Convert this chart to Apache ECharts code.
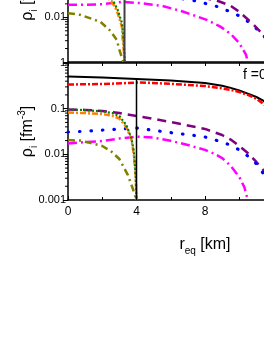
<!DOCTYPE html>
<html>
<head>
<meta charset="utf-8">
<script src="https://cdn.jsdelivr.net/npm/echarts@6/dist/echarts.min.js"></script>
<style>
html,body{margin:0;padding:0;background:#fff;}
#c{width:264px;height:341px;}
</style>
</head>
<body>
<div id="c"></div>
<script>
// ---- data (x in km, y in fm^-3) ----
const xTickLabels = ['0','4','8','12','16'];
const yTickLabels = ['0.001','0.01','0.1','1'];
const annotation = 'f =0';

// top panel (partially visible)
const topMagenta = [[0,0.0191],[1,0.0192],[2,0.0196],[3.2,0.0223],[4.2,0.0208],[5.5,0.0181],[6.7,0.0135],[8.1,0.0088],[8.9,0.0062],[9.5,0.00426],[10,0.00267],[10.4,0.00144],[10.5,0.001]];
const topBlue = [[0,0.033],[4,0.034],[6,0.029],[7.4,0.0235],[8.1,0.0201],[8.7,0.0175],[9.3,0.0142],[10,0.0108],[10.6,0.0077],[11.2,0.0048],[11.5,0.0036],[12,0.002]];
const topPurple = [[0,0.05],[4,0.045],[7,0.033],[8.8,0.0229],[9.5,0.0181],[10,0.0133],[10.8,0.0071],[11.3,0.0045],[11.5,0.0035],[12,0.002]];
const topOlive = [[0,0.0124],[0.7,0.0114],[1.9,0.0079],[2.45,0.0051],[2.85,0.00312],[3.0,0.00186],[3.2,0.0011],[3.25,0.001]];
const topOrange = [[0,0.06],[1.5,0.045],[2.45,0.0247],[2.74,0.0174],[2.9,0.0124],[3.15,0.0061],[3.2,0.0031],[3.27,0.0016],[3.3,0.001]];
const topGreen = [[0,0.065],[1.5,0.05],[2.6,0.0247],[2.9,0.0147],[3.15,0.0075],[3.23,0.0037],[3.28,0.00186],[3.32,0.001]];
const topVertical = [[3.3,0.001],[3.3,1]];

// bottom panel
const botBlack = [[0,0.506],[2,0.48],[4,0.447],[6,0.412],[8,0.363],[9,0.318],[9.5,0.285],[10,0.25],[10.5,0.214],[11,0.18],[11.4,0.15],[12,0.09]];
const botRed = [[0,0.338],[2,0.347],[4,0.37],[4.2,0.375],[6,0.35],[8,0.312],[9,0.278],[9.5,0.257],[10,0.232],[10.5,0.2],[11,0.165],[11.5,0.12],[12,0.075]];
const botPurple = [[0,0.096],[1,0.094],[2,0.089],[3,0.08],[4,0.069],[5,0.06],[6,0.051],[7,0.043],[8,0.036],[9,0.0265],[9.5,0.021],[10,0.0152],[10.5,0.0107],[11,0.0068],[11.5,0.0041],[12,0.002]];
const botBlue = [[0,0.0308],[1,0.032],[2,0.034],[3,0.0358],[4,0.0377],[5,0.0335],[6,0.0298],[7,0.027],[8,0.024],[9,0.0186],[9.5,0.0158],[10,0.0125],[10.5,0.0092],[11,0.0062],[11.5,0.0034],[12,0.0015]];
const botMagenta = [[0,0.0173],[1,0.0185],[2,0.0195],[3,0.0222],[4,0.0245],[5,0.0232],[6,0.0198],[7,0.016],[8,0.0125],[8.5,0.0105],[9,0.0083],[9.5,0.0056],[10,0.0032],[10.3,0.0019],[10.5,0.001]];
const botOlive = [[0,0.0205],[0.7,0.02],[1.3,0.0178],[2,0.0152],[2.5,0.0118],[3,0.0079],[3.5,0.0035],[3.8,0.0017],[4,0.001]];
const botGreen = [[0,0.096],[1,0.093],[2,0.087],[2.6,0.08],[3,0.069],[3.4,0.044],[3.7,0.0228],[3.85,0.0112],[3.95,0.0035],[4,0.001]];
const botOrange = [[0,0.082],[1,0.08],[2,0.076],[2.6,0.07],[3,0.061],[3.4,0.04],[3.7,0.0217],[3.85,0.0097],[3.95,0.0035],[4,0.001]];
const botVertical = [[4,0.447],[4,0.001]];

// ---- chart ----
const FONT = '"Liberation Sans", Arial, sans-serif';
const chart = echarts.init(document.getElementById('c'), null, {renderer:'canvas'});

const minorVals = [];
for (let e = -3; e < 0; e++) for (let m = 2; m <= 9; m++) minorVals.push([0, m * Math.pow(10, e)]);

function logLabel(v){ const e = Math.round(Math.log10(v)); return yTickLabels[e + 3] || ''; }
function xLabel(v){ return xTickLabels[Math.round(v / 4)] || ''; }

const nameRich = {
  a:{fontSize:16, fontFamily:FONT, color:'#000', lineHeight:22, verticalAlign:'middle'},
  s:{fontSize:10, fontFamily:FONT, color:'#000', lineHeight:12, verticalAlign:'bottom'},
  p:{fontSize:10, fontFamily:FONT, color:'#000', lineHeight:12, verticalAlign:'top'}
};
const yName = '{a|ρ}{s|i}{a| [fm}{p|-3}{a|]}';

function line(data, color, dash, xi, yi, width, cap){
  return {type:'line', data, xAxisIndex:xi, yAxisIndex:yi, showSymbol:false, symbol:'none',
    silent:true, animation:false, smooth:false,
    lineStyle:{color, width:width||2.2, type:dash||'solid', cap:cap||'butt'}};
}
function minorTicks(xi, yi){
  return {type:'custom', xAxisIndex:xi, yAxisIndex:yi, data:minorVals, silent:true, animation:false, clip:false,
    renderItem:(params, api)=>{
      const p = api.coord([api.value(0), api.value(1)]);
      return {type:'line', shape:{x1:p[0]-3, y1:p[1], x2:p[0], y2:p[1]}, style:{stroke:'#000', lineWidth:1}};
    }};
}

const W = 274; // 16 km * ~17.15 px/km, extends past the window
const option = {
  backgroundColor:'#fff',
  animation:false,
  grid:[
    {left:68, top:-72, width:W, height:134, containLabel:false, outerBoundsMode:'none'},
    {left:68, top:63, width:W, height:137, containLabel:false, outerBoundsMode:'none'}
  ],
  xAxis:[
    {gridIndex:0, type:'value', min:0, max:16, interval:2,
      axisLine:{show:true, lineStyle:{color:'#000', width:1.5}},
      axisTick:{show:true, inside:false, length:4, lineStyle:{color:'#000'}},
      axisLabel:{show:false}, splitLine:{show:false}},
    {gridIndex:1, type:'value', min:0, max:16, interval:4,
      axisLine:{show:true, lineStyle:{color:'#000', width:1.5}},
      axisTick:{show:true, inside:true, length:4, lineStyle:{color:'#000'}},
      minorTick:{show:true, splitNumber:2, length:3, lineStyle:{color:'#000'}},
      axisLabel:{show:true, formatter:xLabel, fontSize:12, fontFamily:FONT, color:'#000', margin:6},
      splitLine:{show:false},
      name:'{a|r}{s|eq}{a| [km]}', nameLocation:'middle', nameGap:34,
      nameTextStyle:{rich:nameRich}},
    {gridIndex:1, type:'value', min:0, max:16, position:'top',
      axisLine:{show:true, lineStyle:{color:'#000', width:1.5}},
      axisTick:{show:false}, axisLabel:{show:false}, splitLine:{show:false}}
  ],
  yAxis:[
    {gridIndex:0, type:'log', logBase:10, min:0.001, max:1,
      axisLine:{show:true, lineStyle:{color:'#000', width:1.5}},
      axisTick:{show:true, inside:false, length:5, lineStyle:{color:'#000'}},
      axisLabel:{show:true, formatter:(v)=> (Math.round(Math.log10(v)) === -3 ? '' : logLabel(v)),
        fontSize:11, fontFamily:FONT, color:'#000', margin:2},
      splitLine:{show:false},
      name:yName, nameLocation:'middle', nameRotate:90, nameGap:29, nameMoveOverlap:false,
      nameTextStyle:{rich:nameRich}},
    {gridIndex:1, type:'log', logBase:10, min:0.001, max:1,
      axisLine:{show:true, lineStyle:{color:'#000', width:1.5}},
      axisTick:{show:true, inside:false, length:5, lineStyle:{color:'#000'}},
      axisLabel:{show:true, formatter:logLabel, fontSize:11, fontFamily:FONT, color:'#000', margin:2},
      splitLine:{show:false},
      name:yName, nameLocation:'middle', nameRotate:90, nameGap:29, nameMoveOverlap:false,
      nameTextStyle:{rich:nameRich}}
  ],
  graphic:[
    {type:'text', left:243, top:68, style:{text:annotation, fontSize:14, fontFamily:FONT, fill:'#000'}}
  ],
  series:[
    minorTicks(0,0),
    minorTicks(1,1),
    line(topMagenta, '#ff00ff', [9,4,2,4], 0, 0, 2.5),
    line(topBlue, '#0000ff', [0.5,11], 0, 0, 3.2, 'round'),
    line(topPurple, '#800080', [9,6], 0, 0, 2.5),
    line(topOlive, '#808000', [7,4,2,4], 0, 0, 2.5),
    line(topOrange, '#ff8000', [6,2,2,2], 0, 0, 2.5),
    line(topGreen, '#008000', [2,2], 0, 0, 2.2),
    line(topVertical, '#404040', 'solid', 0, 0, 2),
    line(botBlack, '#000000', 'solid', 1, 1, 2),
    line(botRed, '#ff0000', [6,2,2,2], 1, 1, 2.5),
    line(botPurple, '#800080', [9,6], 1, 1, 2.5),
    line(botBlue, '#0000ff', [0.5,11], 1, 1, 3.2, 'round'),
    line(botMagenta, '#ff00ff', [9,4,2,4], 1, 1, 2.5),
    line(botOlive, '#808000', [7,4,2,4], 1, 1, 2.5),
    line(botOrange, '#ff8000', [6,2,2,2], 1, 1, 2.5),
    line(botGreen, '#008000', [2,2], 1, 1, 2.2),
    line(botVertical, '#000000', 'solid', 1, 1, 1.5)
  ]
};
chart.setOption(option);
</script>
</body>
</html>
